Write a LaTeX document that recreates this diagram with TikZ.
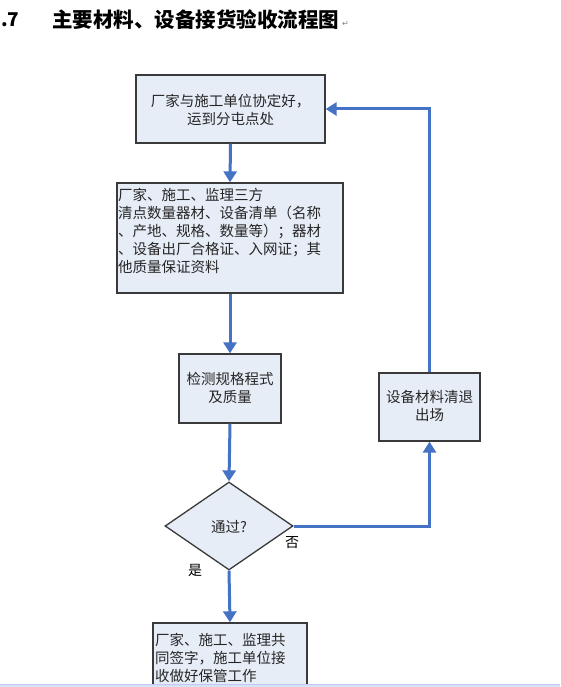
\documentclass[tikz,border=0pt]{standalone}
\usepackage{fontspec}
\setmainfont{Noto Sans CJK SC}
\newfontfamily\symfont{DejaVu Sans}
\usetikzlibrary{arrows.meta,shapes.geometric}
\definecolor{boxfill}{HTML}{E7EDF7}
\definecolor{boxline}{HTML}{3A3A3A}
\definecolor{arrowblue}{HTML}{4472C4}
\definecolor{barblue}{HTML}{D6E3F3}
\tikzset{
  box/.style={draw=boxline, line width=1.3pt, fill=boxfill, inner sep=0pt},
  txt/.style={font=\fontsize{14.5pt}{18pt}\selectfont, inner sep=0pt, text=black!85},
  flow/.style={draw=arrowblue, line width=3pt, -{Triangle[width=13pt,length=11pt]}},
  lbl/.style={font=\fontsize{14pt}{16pt}\selectfont, inner sep=0pt}
}
\begin{document}
\begin{tikzpicture}[x=1pt,y=-1pt]
\useasboundingbox (0,0) rectangle (560,687);
\clip (0,0) rectangle (560,687);
\fill[white] (0,0) rectangle (560,687);
% title
\node[anchor=west, inner sep=0pt, font=\fontsize{19pt}{20pt}\selectfont\bfseries] (num) at (1,20) {.7};
\node[anchor=west, inner sep=0pt, font=\fontsize{20.5pt}{22pt}\selectfont\bfseries] (title) at (52,20) {主要材料、设备接货验收流程图};
\node[anchor=west, inner sep=0pt, font=\symfont\fontsize{8pt}{9pt}\selectfont, text=gray] (pm) at (342,24) {↵};
% boxes
\node[box, minimum width=189pt, minimum height=68pt] (b1) at (230.5,109) {};
\node[txt, align=center] (t1) at (230.5,110) {厂家与施工单位协定好，\\运到分屯点处};
\node[box, minimum width=226pt, minimum height=110pt] (b2) at (230,238) {};
\node[txt, align=left, anchor=north west] (t2) at (118,188) {厂家、施工、监理三方\\清点数量器材、设备清单（名称\\、产地、规格、数量等）；器材\\、设备出厂合格证、入网证；其\\他质量保证资料};
\node[box, minimum width=102pt, minimum height=69pt] (b3) at (230,388.5) {};
\node[txt, align=center] (t3) at (230,388) {检测规格程式\\及质量};
\node[draw=boxline, line width=1.3pt, fill=boxfill, diamond, minimum width=128pt, minimum height=88pt, inner sep=0pt] (d) at (229,526) {};
\node[txt] (td) at (229,527) {通过?};
\node[box, minimum width=101pt, minimum height=68pt] (b4) at (429.5,407) {};
\node[txt, align=center] (t4) at (429.5,406) {设备材料清退\\出场};
\node[box, minimum width=154pt, minimum height=80pt] (b5) at (230,663) {};
\node[txt, align=left, anchor=north west] (t5) at (155,633) {厂家、施工、监理共\\同签字，施工单位接\\收做好保管工作};
% labels
\node[lbl] (no) at (292,543) {否};
\node[lbl] (yes) at (195,570) {是};
% connectors
\draw[flow] (b1.south) -- (b2.north);
\draw[flow] (b2.south) -- (b3.north);
\draw[flow] (b3.south) -- (d.north);
\draw[flow] (d.south) -- (b5.north);
\draw[flow] (d.east) -| (b4.south);
\draw[flow] (b4.north) |- (b1.east);
% bottom bar
\fill[barblue] (0,684) rectangle (560,687);
\draw[color=barblue!70!blue!60, line width=0.6pt] (0,684) -- (560,684);
\end{tikzpicture}
\end{document}
